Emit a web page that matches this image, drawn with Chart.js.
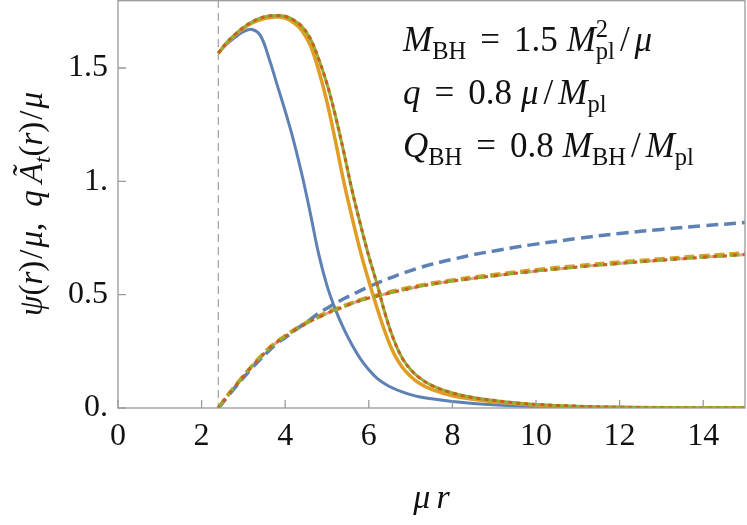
<!DOCTYPE html>
<html>
<head>
<meta charset="utf-8">
<script src="https://cdn.jsdelivr.net/npm/chart.js@4"></script>
<style>
  html, body { margin: 0; padding: 0; background: #fff; }
  canvas { display: block; }
</style>
</head>
<body>
<canvas id="plot" width="747" height="525"></canvas>
<script>
// radial grid (mu r) used for all curves
const rVals = [2.4, 2.6, 2.8, 3.0, 3.2, 3.4, 3.6, 3.8, 4.0, 4.2, 4.4, 4.6, 4.8, 5.0, 5.2, 5.4, 5.6, 5.8, 6.0, 6.2,
  6.4, 6.6, 6.8, 7.0, 7.2, 7.5, 8.0, 8.5, 9.0, 9.5, 10, 11, 12, 13, 14, 15];

// psi(r)/mu, solid curves
const psiBlue = [1.567, 1.605, 1.635, 1.66, 1.67, 1.645, 1.55, 1.43, 1.31, 1.18, 1.03, 0.86, 0.68, 0.54, 0.435, 0.35,
  0.278, 0.217, 0.169, 0.131, 0.105, 0.086, 0.071, 0.059, 0.05, 0.041, 0.029, 0.02, 0.014, 0.009, 0.006, 0.003, 0.001, 0, 0, 0];
const psiOrange = [1.565, 1.61, 1.645, 1.675, 1.698, 1.713, 1.722, 1.725, 1.72, 1.70, 1.665, 1.60, 1.49, 1.35, 1.18, 1.00,
  0.84, 0.69, 0.56, 0.44, 0.33, 0.24, 0.18, 0.14, 0.11, 0.082, 0.054, 0.039, 0.028, 0.02, 0.013, 0.006, 0.003, 0.001, 0, 0];
const psiGreen = [1.565, 1.612, 1.648, 1.679, 1.703, 1.72, 1.729, 1.732, 1.728, 1.712, 1.683, 1.63, 1.54, 1.43, 1.29, 1.13,
  0.96, 0.81, 0.67, 0.545, 0.41, 0.30, 0.22, 0.17, 0.135, 0.10, 0.066, 0.046, 0.033, 0.023, 0.016, 0.008, 0.003, 0.001, 0, 0];

// q A_t(r)/mu, dashed curves
const aBlue = [0, 0.045, 0.09, 0.133, 0.175, 0.214, 0.25, 0.285, 0.31, 0.338, 0.365, 0.39, 0.418, 0.44, 0.462, 0.482,
  0.5, 0.518, 0.535, 0.551, 0.566, 0.58, 0.594, 0.606, 0.618, 0.634, 0.656, 0.676, 0.693, 0.709, 0.723, 0.748, 0.77, 0.788, 0.804, 0.818];
const aOrange = [0, 0.05, 0.096, 0.141, 0.184, 0.224, 0.262, 0.292, 0.318, 0.343, 0.365, 0.386, 0.404, 0.422, 0.437, 0.45,
  0.464, 0.477, 0.489, 0.498, 0.507, 0.516, 0.524, 0.532, 0.54, 0.55, 0.564, 0.577, 0.588, 0.599, 0.609, 0.627, 0.643, 0.657, 0.671, 0.683];
const aGreen = [0, 0.05, 0.095, 0.14, 0.183, 0.222, 0.26, 0.29, 0.315, 0.34, 0.362, 0.383, 0.40, 0.418, 0.433, 0.446,
  0.462, 0.474, 0.485, 0.494, 0.503, 0.512, 0.52, 0.528, 0.536, 0.546, 0.56, 0.572, 0.583, 0.594, 0.604, 0.622, 0.638, 0.652, 0.665, 0.677];

const horizon = 2.4;
const xTickVals = [0, 2, 4, 6, 8, 10, 12, 14];
const xTickLabels = ["0", "2", "4", "6", "8", "10", "12", "14"];
const yTickVals = [0, 0.5, 1, 1.5];
const yTickLabels = ["0.", "0.5", "1.", "1.5"];

const FONT = '"Liberation Serif", "Times New Roman", serif';
const BLUE = "#5e81b5", ORANGE = "#e19c24", GREEN = "#8fb032", RED = "#c9601f", PINK = "#f59a9a";

function pts(ys) {
  return rVals.map((r, i) => ({ x: r, y: ys[i] }));
}

function line(label, ys, color, width, dash, order, offset) {
  return {
    label: label,
    data: pts(ys),
    borderColor: color,
    borderWidth: width,
    borderDash: dash || [],
    borderDashOffset: offset || 0,
    pointRadius: 0,
    fill: false,
    tension: 0.4,
    order: order
  };
}

// rich text: italic, sub/superscripts, gaps
function runText(ctx, x, y, parts, size, draw) {
  let cx = x;
  for (const p of parts) {
    if (p.gap) { cx += p.gap; continue; }
    const s = (p.sub || p.sup) ? size * 0.7 : size;
    ctx.font = (p.it ? "italic " : "") + s + "px " + FONT;
    const dy = p.sub ? size * 0.24 : p.sup ? -size * 0.4 : 0;
    if (draw) ctx.fillText(p.t, cx, y + dy);
    if (!p.keep) cx += ctx.measureText(p.t).width;
  }
  return cx - x;
}

const g = 14, sl = 5;
const note1 = [{t: "M", it: 1}, {t: "BH", sub: 1}, {gap: g}, {t: "="}, {gap: g}, {t: "1.5"}, {gap: 9},
  {t: "M", it: 1}, {t: "2", sup: 1, keep: 1}, {t: "pl", sub: 1}, {gap: sl}, {t: "/"}, {gap: sl}, {t: "μ", it: 1}];
const note2 = [{t: "q", it: 1}, {gap: g}, {t: "="}, {gap: g}, {t: "0.8"}, {gap: 9}, {t: "μ", it: 1}, {gap: sl}, {t: "/"},
  {gap: sl}, {t: "M", it: 1}, {t: "pl", sub: 1}];
const note3 = [{t: "Q", it: 1}, {t: "BH", sub: 1}, {gap: g}, {t: "="}, {gap: g}, {t: "0.8"}, {gap: 9},
  {t: "M", it: 1}, {t: "BH", sub: 1}, {gap: sl}, {t: "/"}, {gap: sl}, {t: "M", it: 1}, {t: "pl", sub: 1}];
const xTitle = [{t: "μ", it: 1}, {gap: 6}, {t: "r", it: 1}];
const yTitle = [{t: "ψ", it: 1}, {t: "("}, {t: "r", it: 1}, {t: ")"}, {gap: 2}, {t: "/"}, {gap: 2}, {t: "μ", it: 1}, {t: ","},
  {gap: 16}, {t: "q", it: 1}, {gap: 7}, {t: "Ã", it: 1}, {t: "t", it: 1, sub: 1}, {t: "("}, {t: "r", it: 1}, {t: ")"},
  {gap: 2}, {t: "/"}, {gap: 2}, {t: "μ", it: 1}];

const decor = {
  id: "decor",
  beforeDatasetsDraw(chart) {
    const ctx = chart.ctx, a = chart.chartArea, x = chart.scales.x;
    const hx = x.getPixelForValue(horizon);
    ctx.save();
    ctx.strokeStyle = "#a0a0a0";
    ctx.lineWidth = 1.2;
    ctx.setLineDash([8, 5]);
    ctx.beginPath();
    ctx.moveTo(hx, a.top);
    ctx.lineTo(hx, a.bottom);
    ctx.stroke();
    ctx.restore();
  },
  afterDraw(chart) {
    const ctx = chart.ctx, a = chart.chartArea, x = chart.scales.x, y = chart.scales.y;
    ctx.save();
    // frame and inward ticks
    ctx.strokeStyle = "#9a9a9a";
    ctx.lineWidth = 1.3;
    ctx.strokeRect(a.left, a.top + 0.7, a.right - a.left, a.bottom - a.top - 0.7);
    ctx.beginPath();
    xTickVals.forEach(v => {
      const px = x.getPixelForValue(v);
      ctx.moveTo(px, a.bottom);
      ctx.lineTo(px, a.bottom - 8);
    });
    yTickVals.forEach(v => {
      const py = y.getPixelForValue(v);
      ctx.moveTo(a.left, py);
      ctx.lineTo(a.left + 8, py);
    });
    ctx.stroke();

    ctx.fillStyle = "#111";
    ctx.textBaseline = "alphabetic";
    ctx.textAlign = "left";
    const fs = 35;
    runText(ctx, 403, 51, note1, fs, true);
    runText(ctx, 403, 104, note2, fs, true);
    runText(ctx, 403, 157, note3, fs, true);

    const wx = runText(ctx, 0, 0, xTitle, 34, false);
    runText(ctx, (a.left + a.right) / 2 - wx / 2, 508, xTitle, 34, true);

    const wy = runText(ctx, 0, 0, yTitle, 33, false);
    ctx.translate(42, (a.top + a.bottom) / 2);
    ctx.rotate(-Math.PI / 2);
    runText(ctx, -wy / 2, 0, yTitle, 33, true);
    ctx.restore();
  }
};

new Chart(document.getElementById("plot"), {
  type: "line",
  data: {
    datasets: [
      line("psi 1", psiBlue, BLUE, 3, null, 6),
      line("psi 2", psiOrange, ORANGE, 3.5, null, 5),
      line("psi 3", psiGreen, GREEN, 3, null, 4),
      line("psi 4", psiGreen, RED, 3, [4, 4], 3),
      line("A 1", aBlue, BLUE, 3.5, [12, 6], 7),
      line("A pink", aGreen, PINK, 3, [5, 5], 10, 5),
      line("A 2", aOrange, ORANGE, 4, [10, 5], 9),
      line("A 3", aGreen, GREEN, 3, [10, 5], 2),
      line("A 4", aGreen, RED, 3, [4, 6], 1, 2)
    ]
  },
  options: {
    responsive: false,
    devicePixelRatio: 1,
    animation: false,
    layout: { padding: { top: 0, right: 2, left: 0, bottom: 0 } },
    plugins: { legend: { display: false }, tooltip: { enabled: false } },
    scales: {
      x: {
        type: "linear",
        min: 0,
        max: 15,
        grid: { display: false, drawTicks: false },
        border: { display: false },
        afterBuildTicks: s => { s.ticks = xTickVals.map(v => ({ value: v })); },
        afterFit: s => { s.height = 117; s.paddingLeft = 0; s.paddingRight = 0; },
        ticks: {
          color: "#111",
          padding: 9,
          maxRotation: 0,
          autoSkip: false,
          font: { family: FONT, size: 32 },
          callback: (v) => xTickLabels[xTickVals.indexOf(v)]
        }
      },
      y: {
        min: 0,
        max: 1.8,
        grid: { display: false, drawTicks: false },
        border: { display: false },
        afterBuildTicks: s => { s.ticks = yTickVals.map(v => ({ value: v })); },
        afterFit: s => { s.width = 118; s.paddingTop = 0; s.paddingBottom = 0; },
        ticks: {
          color: "#111",
          padding: 10,
          autoSkip: false,
          font: { family: FONT, size: 32 },
          callback: (v) => yTickLabels[yTickVals.indexOf(v)]
        }
      }
    }
  },
  plugins: [decor]
});
</script>
</body>
</html>
